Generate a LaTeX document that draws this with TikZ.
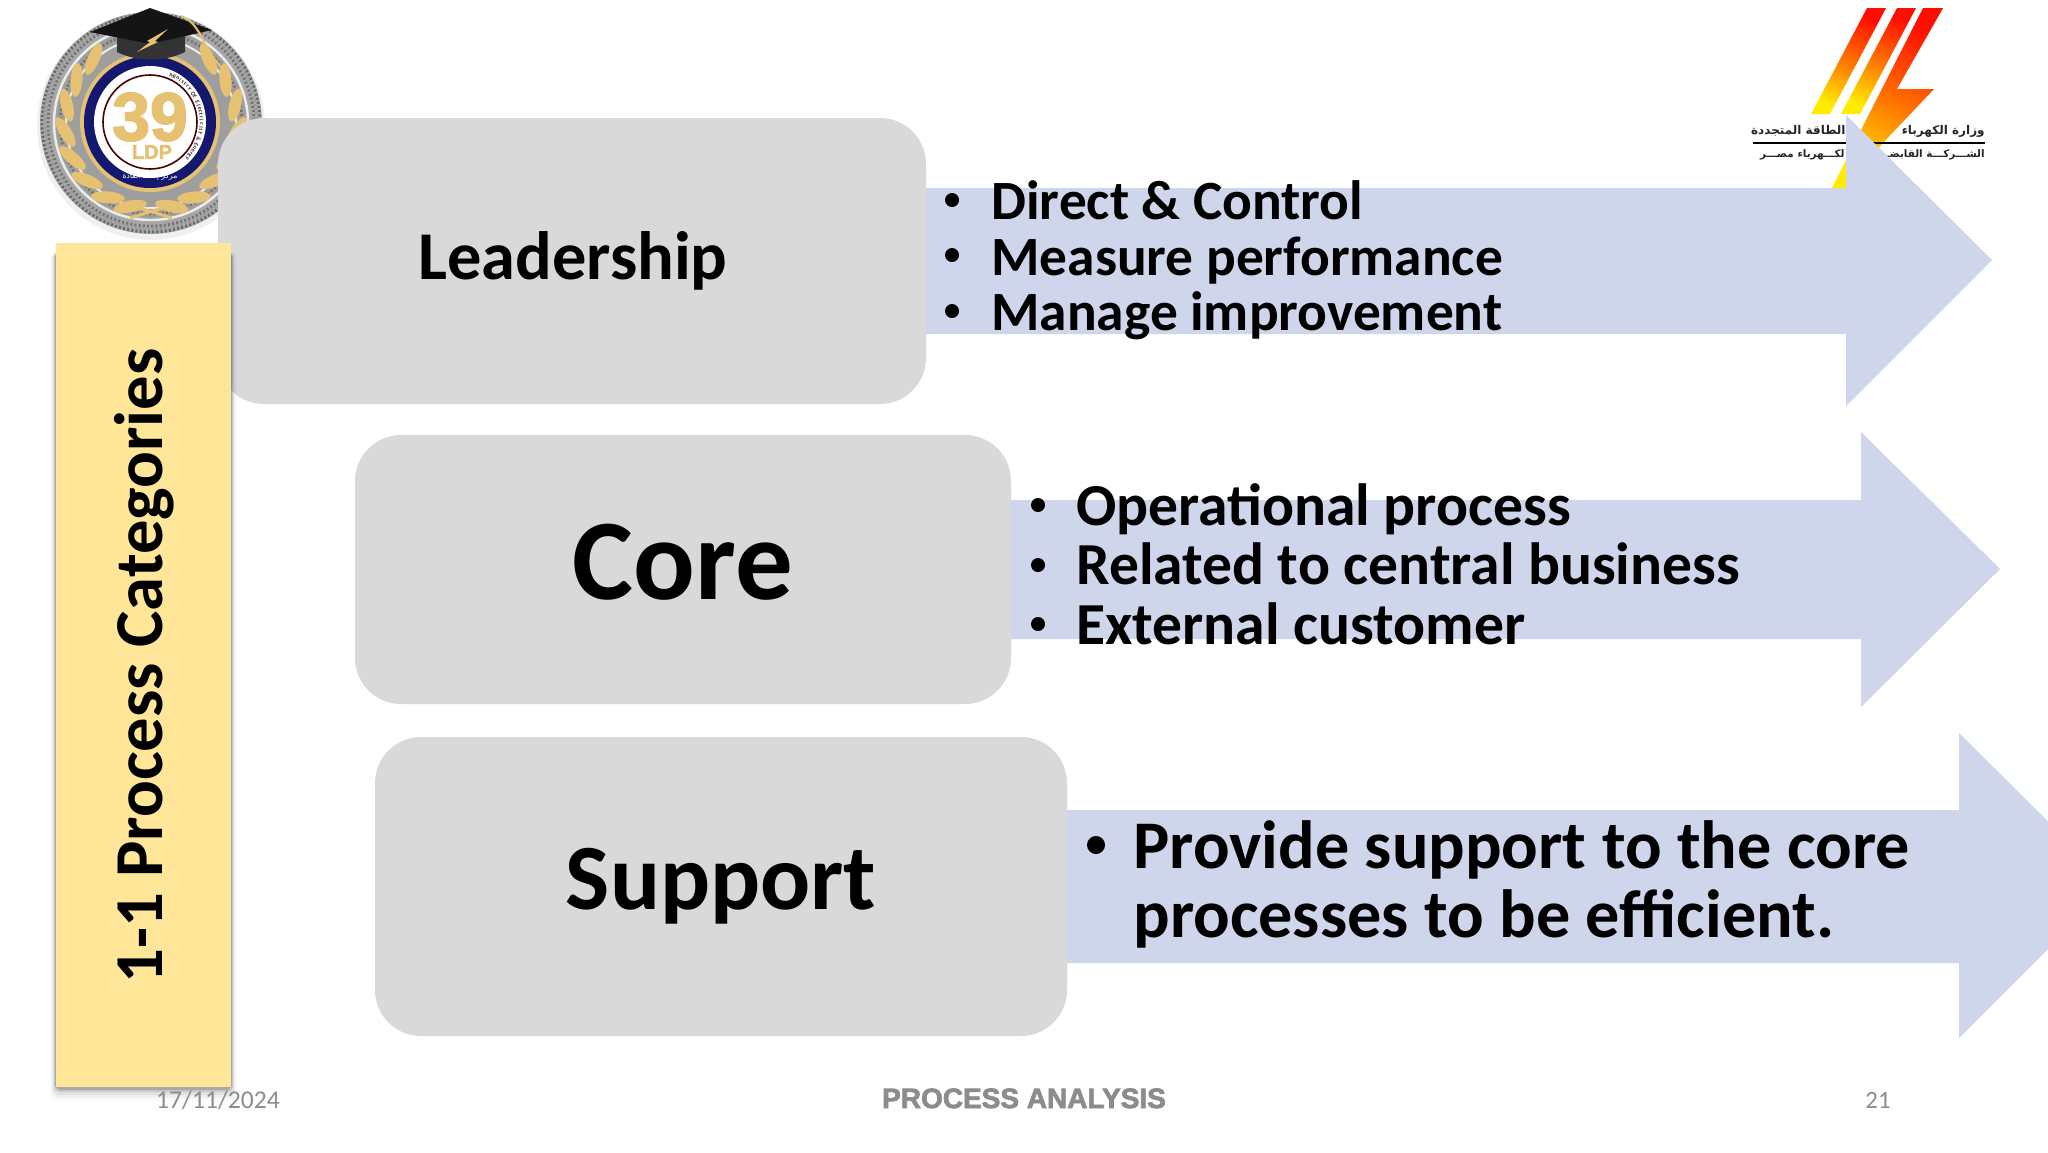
\documentclass[tikz,border=0pt]{standalone}
\usepackage{fontspec}
\setmainfont{Carlito}
\newfontfamily\arabicfont[Script=Arabic]{DejaVu Sans}
\newfontfamily\footheavy[BoldFeatures={FakeBold=2.5}]{Liberation Sans}
\TeXXeTstate=1
\definecolor{boxgray}{HTML}{D9D9D9}
\definecolor{arrowblue}{HTML}{CFD5EA}
\definecolor{titleyellow}{HTML}{FFE699}
\definecolor{footgray}{HTML}{8C8C8C}
\definecolor{sealgray}{HTML}{A8A8A8}
\definecolor{sealgold}{HTML}{E6C172}
\definecolor{sealblue}{HTML}{14186E}
\tikzset{
  procbox/.style={fill=boxgray,draw=none,rounded corners=23pt,inner sep=0pt,font=\bfseries},
  blockarrow/.style={fill=arrowblue,draw=none},
  bullettext/.style={anchor=base west,inner sep=0pt,font=\bfseries},
  bulletdot/.style={circle,fill=black,inner sep=0pt,minimum size=7pt},
  leaf/.style={fill=sealgold,draw=none},
  footer/.style={inner sep=0pt,anchor=base},
  logoar/.style={inner sep=0pt,font=\arabicfont\bfseries,text=black!85},
  bolt/.style={top color=red!90!orange,bottom color=yellow!85!orange,middle color=orange!90!red,shading angle=-25},
}
\begin{document}
\begin{tikzpicture}[x=0.5pt,y=-0.5pt]
\path[use as bounding box] (0,0) rectangle (2048,1152);
\clip (0,0) rectangle (2048,1152);
\fill[white] (0,0) rectangle (2048,1152);
% ---- seal
\fill[black!6] (151,126) circle [radius=114];
\fill[sealgray] (151,123) circle [radius=111];
\foreach \r/\c in {109/60,106/40,103/55,100/35}{
  \draw[black!\c,line width=1.4pt,dash pattern=on 1pt off 1.1pt] (151,123) circle [radius=\r];
}
\draw[white!85!gray,line width=1.2pt] (151,123) circle [radius=97];
\fill[black!38] (151,123) circle [radius=95];
\draw[black!55,line width=1.4pt,dash pattern=on 1pt off 1.1pt] (151,123) circle [radius=91];
\draw[white!85!gray,line width=1pt] (151,123) circle [radius=85];
\foreach \a in {-48,-30,-12,6,24,42,60,76}{
  \fill[leaf,shift={({151+86*cos(\a)},{123+86*sin(\a)})},rotate={-\a-25}] (0,0) ellipse [x radius=6,y radius=17];
}
\foreach \a in {228,210,192,174,156,138,120,104}{
  \fill[leaf,shift={({151+86*cos(\a)},{123+86*sin(\a)})},rotate={-\a+25}] (0,0) ellipse [x radius=6,y radius=17];
}
\draw[sealgold,line width=1.5pt] (130,218) -- (172,205) (172,218) -- (130,205);
\fill[sealgold] (150,122) circle [radius=70];
\fill[sealblue] (150,122) circle [radius=66];
\fill[white] (150,122) circle [radius=56];
\draw[black!70!red,line width=0.8pt] (150,122) circle [radius=47];
\fill[white] (150,122) circle [radius=45];
\foreach \c [count=\i] in {M,i,n,i,s,t,r,y,{},O,f,{},E,l,e,c,t,r,i,c,i,t,y,{},\&,{},E,n,e,r,g,y}{
  \pgfmathsetmacro{\ang}{-68+\i*3.5}
  \node[inner sep=0pt,text=black!80,rotate={-\ang-90}] (ring\i) at ({150+51.5*cos(\ang)},{122+51.5*sin(\ang)}) {\fontsize{3pt}{3pt}\selectfont\bfseries \c};
}
\node[inner sep=0pt,text=sealgold] (seal39) at (150,117) {\fontsize{34pt}{34pt}\footheavy\bfseries 39};
\node[inner sep=0pt,text=sealgold] (sealldp) at (152,152) {\fontsize{10pt}{10pt}\footheavy\bfseries LDP};
\node[inner sep=0pt,text=white] (sealar) at (150,177) {\fontsize{3.8pt}{4pt}\arabicfont\beginR مركز إعداد القادة\endR};
% cap
\fill[black!80] (117,35) -- (185,35) -- (185,52) .. controls (165,62) and (137,62) .. (117,52) -- cycle;
\fill[black!92] (150,8) -- (212,30) -- (150,44) -- (90,32) -- cycle;
\fill[sealgold] (168,29) -- (155,41) -- (158,42) -- (137,52) -- (150,42) -- (147,41) -- cycle;
\draw[sealgold,line width=1pt] (181,16) .. controls (197,22) and (203,40) .. (208,52) -- (224,70);
% ---- ministry logo
\shade[bolt] (1867,8) -- (1886,8) -- (1830,114) -- (1811,114) -- cycle;
\shade[bolt] (1897,8) -- (1916,8) -- (1860,114) -- (1841,114) -- cycle;
\shade[bolt] (1923,8) -- (1943,8) -- (1897,89) -- (1934,89) -- (1862,165) -- (1846,190) -- (1832,188) -- (1864,124) -- cycle;
\node[logoar,anchor=east] (logoa) at (1846,131) {\fontsize{6pt}{7pt}\selectfont\beginR الطاقة المتجددة\endR};
\node[logoar,anchor=east] (logob) at (1985,131) {\fontsize{6pt}{7pt}\selectfont\beginR وزارة الكهرباء\endR};
\draw[black,line width=0.9pt] (1753,143) -- (1985,143);
\node[logoar,anchor=east] (logoc) at (1845,155) {\fontsize{5.2pt}{6pt}\selectfont\beginR لكـــهرباء مصـــر\endR};
\node[logoar,anchor=east] (logod) at (1985,155) {\fontsize{5.2pt}{6pt}\selectfont\beginR الشـــركـــة القابضـــة\endR};
% ---- block arrows
\fill[blockarrow] (900,188) -- (1846,188) -- (1846,115) -- (1992,260) -- (1846,406) -- (1846,334) -- (900,334) -- cycle;
\fill[blockarrow] (990,500) -- (1861,500) -- (1861,432) -- (2000,569) -- (1861,707) -- (1861,639) -- (990,639) -- cycle;
\fill[blockarrow] (1040,810) -- (1959,810) -- (1959,733) -- (2112,885) -- (1959,1038) -- (1959,963) -- (1040,963) -- cycle;
% ---- boxes
\node[procbox,minimum width=354pt,minimum height=143pt] (leadership) at (572,261) {};
\node[inner sep=0pt,font=\bfseries] (leadershipt) at (573,261) {\fontsize{34.2pt}{34pt}\selectfont Leadership};
\node[procbox,minimum width=328pt,minimum height=134.5pt] (core) at (683,569.5) {};
\node[inner sep=0pt,font=\bfseries] (coret) at (683,562) {\fontsize{57.5pt}{57pt}\selectfont Core};
\node[procbox,minimum width=346pt,minimum height=149.5pt] (support) at (721,886.5) {};
\node[inner sep=0pt,font=\bfseries] (supportt) at (721,886) {\fontsize{46.7pt}{46pt}\selectfont Support};
% ---- title
\foreach \o/\g in {14/0.02,11/0.04,8/0.06,5/0.10,3/0.16}{
  \fill[black,opacity=\g,rounded corners=3pt] ({56-\o*0.4},252) rectangle ({231+\o*0.4},{1087+\o});
}
\node[fill=titleyellow,minimum width=87.5pt,minimum height=422pt,inner sep=0pt] (title) at (143.5,665) {};
\node[rotate=90,inner sep=0pt,font=\bfseries] (titletext) at (144,666) {\fontsize{34.3pt}{34pt}\selectfont 1-1 Process Categories};
% ---- bullet lists
\node[bulletdot] (b1a) at (952,200) {};
\node[bulletdot] (b1b) at (952,255) {};
\node[bulletdot] (b1c) at (952,311) {};
\node[bullettext] (t1a) at (991,219) {\fontsize{27.7pt}{27pt}\selectfont Direct \& Control};
\node[bullettext] (t1b) at (991,275) {\fontsize{27.7pt}{27pt}\selectfont Measure performance};
\node[bullettext] (t1c) at (991,330) {\fontsize{27.7pt}{27pt}\selectfont Manage improvement};
\node[bulletdot] (b2a) at (1038,505) {};
\node[bulletdot] (b2b) at (1038,565) {};
\node[bulletdot] (b2c) at (1038,624) {};
\node[bullettext] (t2a) at (1076,525) {\fontsize{29.8pt}{29pt}\selectfont Operational process};
\node[bullettext] (t2b) at (1076,584) {\fontsize{29.8pt}{29pt}\selectfont Related to central business};
\node[bullettext] (t2c) at (1076,644) {\fontsize{29.8pt}{29pt}\selectfont External customer};
\node[bulletdot,minimum size=9pt] (b3a) at (1096,845) {};
\node[bullettext] (t3a) at (1133,868) {\fontsize{34.1pt}{34pt}\selectfont Provide support to the core};
\node[bullettext] (t3b) at (1133,937) {\fontsize{34.1pt}{34pt}\selectfont processes to be efficient.};
% ---- footer
\node[footer,text=footgray] (date) at (218,1108) {\fontsize{12.8pt}{13pt}\selectfont 17/11/2024};
\node[footer,text=footgray] (foot) at (1024,1108) {\fontsize{14pt}{14pt}\footheavy\bfseries PROCESS ANALYSIS};
\node[footer,text=footgray] (page) at (1878,1108) {\fontsize{12.4pt}{12pt}\selectfont 21};
\end{tikzpicture}
\end{document}
